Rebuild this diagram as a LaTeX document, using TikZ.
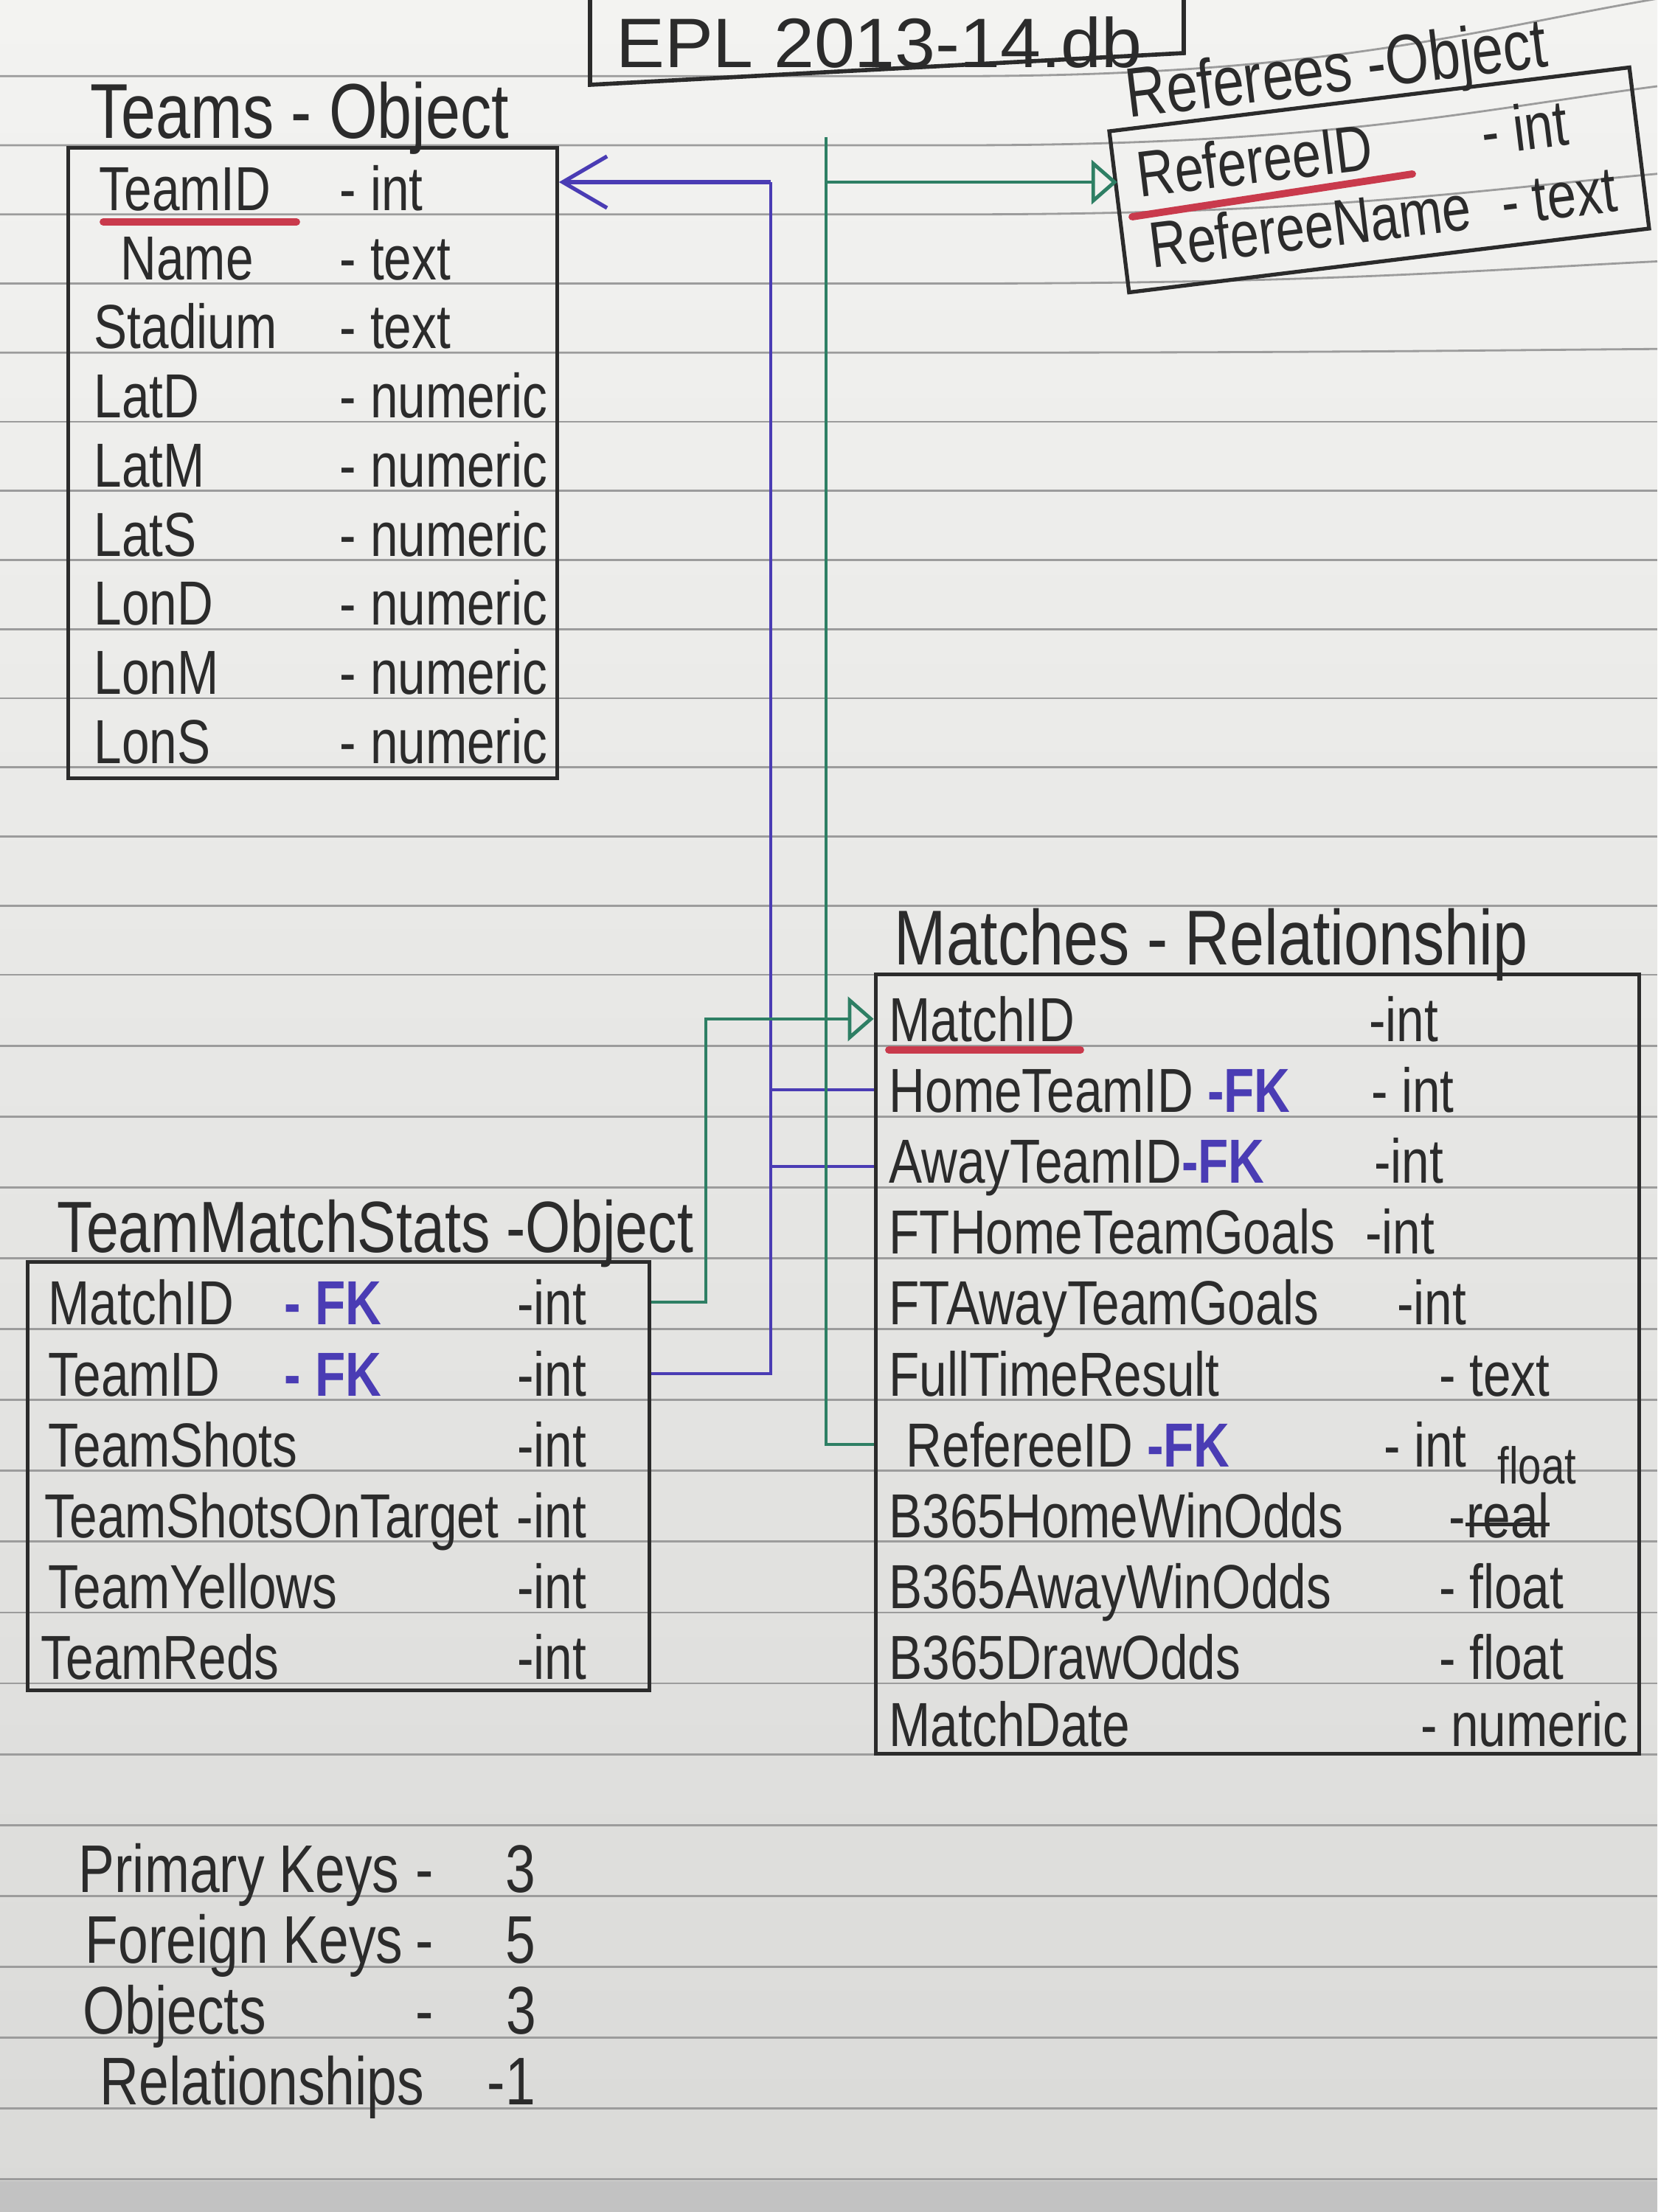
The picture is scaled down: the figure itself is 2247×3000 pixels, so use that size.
\documentclass[tikz,border=0pt]{standalone}
\usepackage{fontspec}
\setmainfont{Liberation Sans}[FakeStretch=0.8]
\usepackage{xcolor}
\usetikzlibrary{arrows.meta}
\definecolor{inkBlack}{HTML}{2B2B2B}
\definecolor{penBlue}{HTML}{4A3CB4}
\definecolor{penGreen}{HTML}{2E7F64}
\definecolor{penRed}{HTML}{C93A4C}
\definecolor{paperTop}{HTML}{F3F3F1}
\definecolor{paperBottom}{HTML}{DADAD8}
\definecolor{ruleGray}{HTML}{9C9C9C}
\definecolor{deskGray}{HTML}{C2C2C2}
\newcommand{\fkey}[1]{\textcolor{penBlue}{\bfseries #1}}

\begin{document}
\begin{tikzpicture}[x=0.01cm,y=-0.01cm,
  entity/.style={draw=inkBlack,line width=1.5pt,inner sep=0pt},
  heading/.style={anchor=base west,inner sep=0pt,text=inkBlack,font=\fontsize{30}{34}\selectfont},
  attr/.style={anchor=base west,inner sep=0pt,text=inkBlack,font=\fontsize{24}{28}\selectfont},
  tally/.style={attr,font=\fontsize{26}{30}\selectfont},
  pk/.style={penRed,line width=2.8pt,line cap=round},
  teamlink/.style={penBlue,line width=1.2pt},
  reflink/.style={penGreen,line width=1.2pt},
  toteam/.style={teamlink,-{Straight Barb[length=6mm,width=7mm,line width=1.5pt]}},
  tokey/.style={reflink,-{Triangle[open,length=3.5mm,width=6mm,line width=1.4pt]}}]

  % lined paper
  \useasboundingbox (0,0) rectangle (2247,3000);
  \shade[top color=paperTop,bottom color=paperBottom] (0,0) rectangle (2247,3000);
  \fill[deskGray] (0,2958) rectangle (2247,3000);
  \foreach \k in {-1,...,29}{
    \pgfmathsetmacro{\ly}{\k<13 ? 197+93.75*\k : 1322+96.1*(\k-12)}
    \pgfmathsetmacro{\lr}{max(0,80-25*\k)}
    \draw[ruleGray,line width=0.8pt] (0,\ly) -- (1300,\ly) .. controls (1800,\ly) and (2000,\ly-0.6*\lr) .. (2247,\ly-\lr);
  }

  % database name
  \node[inner sep=0pt,text=inkBlack,font=\fontsize{27}{31}\selectfont,xscale=1.3] (epl) at (1192,58) {EPL 2013-14.db};
  \draw[inkBlack,line width=1.6pt] (800,-5) -- (800,115) -- (1605,72) -- (1605,-5);

  % Teams
  \node[heading] (teamshead) at (122,188) {Teams - Object};
  \node[entity,minimum width=6.62cm,minimum height=8.55cm] (teams) at (424,628) {};
  \node[attr] (tteamid) at (134,285) {\makebox[3.26cm][l]{TeamID}- int};
  \node[attr] (tname) at (163,379) {\makebox[2.97cm][l]{Name}- text};
  \node[attr] (tstadium) at (127,472) {\makebox[3.33cm][l]{Stadium}- text};
  \node[attr] (tlatd) at (127,566) {\makebox[3.33cm][l]{LatD}- numeric};
  \node[attr] (tlatm) at (127,660) {\makebox[3.33cm][l]{LatM}- numeric};
  \node[attr] (tlats) at (127,754) {\makebox[3.33cm][l]{LatS}- numeric};
  \node[attr] (tlond) at (127,847) {\makebox[3.33cm][l]{LonD}- numeric};
  \node[attr] (tlonm) at (127,941) {\makebox[3.33cm][l]{LonM}- numeric};
  \node[attr] (tlons) at (127,1035) {\makebox[3.33cm][l]{LonS}- numeric};
  \draw[pk] (tteamid.base west) ++(6,16) -- ++(262,0);

  % Referees
  \node[heading,font=\fontsize{27}{31}\selectfont,rotate=7] (refhead) at (1530,160) {Referees -Object};
  \node[entity,rotate=7,minimum width=7.1cm,minimum height=2.2cm] (referees) at (1870,244) {};
  \node[attr,font=\fontsize{25}{29}\selectfont,rotate=7] (rrefid) at (1545,268) {\makebox[4.7cm][l]{RefereeID}- int};
  \node[attr,font=\fontsize{25}{29}\selectfont,rotate=7] (rrefname) at (1562,364) {\makebox[4.8cm][l]{RefereeName}- text};
  \draw[pk] (rrefid.base west) ++(-10,26) -- ++(380,-58);

  % Matches
  \node[heading] (matchhead) at (1212,1308) {Matches - Relationship};
  \node[entity,minimum width=10.35cm,minimum height=10.56cm] (matches) at (1705,1850) {};
  \node[attr] (mmatchid) at (1205,1412) {\makebox[6.5cm][l]{MatchID}-int};
  \node[attr] (mhome) at (1205,1508) {\makebox[6.53cm][l]{HomeTeamID \fkey{-FK}}- int};
  \node[attr] (maway) at (1205,1604) {\makebox[6.57cm][l]{AwayTeamID\fkey{-FK}}-int};
  \node[attr] (mfthome) at (1205,1700) {\makebox[6.45cm][l]{FTHomeTeamGoals}-int};
  \node[attr] (mftaway) at (1205,1796) {\makebox[6.88cm][l]{FTAwayTeamGoals}-int};
  \node[attr] (mresult) at (1205,1893) {\makebox[7.45cm][l]{FullTimeResult}- text};
  \node[attr] (mrefid) at (1228,1989) {\makebox[6.47cm][l]{RefereeID \fkey{-FK}}- int};
  \node[attr] (mhomeodds) at (1205,2085) {\makebox[7.58cm][l]{B365HomeWinOdds}-};
  \node[attr] (mreal) at (mhomeodds.base east) {real};
  \draw[inkBlack,line width=1.3pt] ([yshift=5pt]mreal.base west) -- ([yshift=5pt]mreal.base east);
  \node[attr,font=\fontsize{20}{24}\selectfont] (mfloat) at (2030,2012) {float};
  \node[attr] (mawayodds) at (1205,2181) {\makebox[7.45cm][l]{B365AwayWinOdds}- float};
  \node[attr] (mdrawodds) at (1205,2277) {\makebox[7.45cm][l]{B365DrawOdds}- float};
  \node[attr] (mdate) at (1205,2368) {\makebox[7.2cm][l]{MatchDate}- numeric};
  \draw[pk] (mmatchid.base west) ++(0,12) -- ++(260,0);

  % TeamMatchStats
  \node[heading,font=\fontsize{28}{32}\selectfont] (statshead) at (77,1698) {TeamMatchStats -Object};
  \node[entity,minimum width=8.42cm,minimum height=5.8cm] (stats) at (459,2002) {};
  \node[attr] (smatchid) at (65,1796) {\makebox[6.35cm][l]{\makebox[3.2cm][l]{MatchID}\fkey{- FK}}-int};
  \node[attr] (steamid) at (65,1893) {\makebox[6.35cm][l]{\makebox[3.2cm][l]{TeamID}\fkey{- FK}}-int};
  \node[attr] (sshots) at (65,1989) {\makebox[6.35cm][l]{TeamShots}-int};
  \node[attr] (starget) at (60,2085) {\makebox[6.4cm][l]{TeamShotsOnTarget}-int};
  \node[attr] (syellows) at (65,2181) {\makebox[6.35cm][l]{TeamYellows}-int};
  \node[attr] (sreds) at (55,2277) {\makebox[6.45cm][l]{TeamReds}-int};

  % team keys (blue)
  \coordinate (teambus) at (1045,247);
  \draw[toteam,line width=1.8pt] (teambus) -- (teambus -| teams.east);
  \draw[teamlink] (teambus) -- (teambus |- steamid) -- (steamid -| stats.east);
  \draw[teamlink] (teambus |- mhome) -- (mhome -| matches.west);
  \draw[teamlink] (teambus |- maway) -- (maway -| matches.west);

  % referee and match keys (green)
  \coordinate (refbus) at (1120,186);
  \coordinate (matchbus) at (957,1800);
  \draw[tokey] (refbus |- teambus) -- (teambus -| referees.west);
  \draw[reflink] (refbus) -- (refbus |- mrefid) -- (mrefid -| matches.west);
  \draw[tokey] (smatchid -| stats.east) -- (smatchid -| matchbus) -- (mmatchid -| matchbus) -- (mmatchid -| matches.west);

  % counts
  \node[tally] (npk) at (106,2566) {\makebox[4.57cm][l]{Primary Keys}\makebox[1.22cm][l]{-}3};
  \node[tally] (nfk) at (115,2662) {\makebox[4.48cm][l]{Foreign Keys}\makebox[1.22cm][l]{-}5};
  \node[tally] (nobj) at (112,2758) {\makebox[4.51cm][l]{Objects}\makebox[1.22cm][l]{-}3};
  \node[tally] (nrel) at (135,2854) {\makebox[5.25cm][l]{Relationships}\makebox[0.25cm][l]{-}1};
\end{tikzpicture}
\end{document}
